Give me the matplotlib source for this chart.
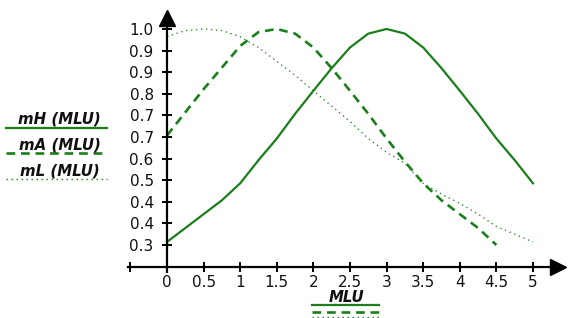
import matplotlib.pyplot as plt
from matplotlib.lines import Line2D

# values (step 0.25 on the MLU axis)
x_h = [0, 0.25, 0.5, 0.75, 1, 1.25, 1.5, 1.75, 2, 2.25, 2.5, 2.75, 3,
       3.25, 3.5, 3.75, 4, 4.25, 4.5, 4.75, 5]
mH = [0.31, 0.355, 0.40, 0.445, 0.50, 0.575, 0.645, 0.725, 0.80, 0.873, 0.94, 0.985, 1.0,
      0.985, 0.94, 0.873, 0.80, 0.725, 0.645, 0.575, 0.50]

x_a = [0, 0.25, 0.5, 0.75, 1, 1.25, 1.5, 1.75, 2, 2.25, 2.5, 2.75, 3,
       3.25, 3.5, 3.75, 4, 4.25, 4.5]
mA = [0.655, 0.73, 0.805, 0.875, 0.945, 0.99, 1.0, 0.985, 0.94, 0.873, 0.80, 0.725, 0.645,
      0.57, 0.50, 0.445, 0.40, 0.355, 0.30]

x_l = x_h
mL = [0.975, 0.995, 1.0, 0.995, 0.975, 0.94, 0.895, 0.85, 0.80, 0.75, 0.70, 0.645, 0.60,
      0.565, 0.50, 0.465, 0.435, 0.40, 0.36, 0.335, 0.31]

x_ticks = [-0.5, 0, 0.5, 1, 1.5, 2, 2.5, 3, 3.5, 4, 4.5, 5]
x_labels = ['', '0', '0.5', '1', '1.5', '2', '2.5', '3', '3.5', '4', '4.5', '5']
y_ticks = [0.3, 0.37, 0.44, 0.51, 0.58, 0.65, 0.72, 0.79, 0.86, 0.93, 1.0]
y_labels = ['0.3', '0.4', '0.4', '0.5', '0.6', '0.7', '0.7', '0.8', '0.9', '0.9', '1.0']

green = '#1a7f1a'
W, H = 569, 318

fig = plt.figure(figsize=(W / 100, H / 100), dpi=100)
ax = fig.add_axes([128 / W, 1 - 272 / H, (558 - 128) / W, (272 - 18) / H])
ax.set_xlim(-0.533, 5.342)
ax.set_ylim(0.2125, 1.0356)

ax.plot(x_h, mH, color=green, lw=1.6, solid_joinstyle='round')
ax.plot(x_a, mA, color=green, lw=1.9, linestyle=(0, (3.3, 2.2)))
ax.plot(x_l, mL, color='#2f8f2f', lw=1.0, linestyle=(0, (1, 2.6)))

# axes with arrows
x_axis_y = 0.2287
for s in ['top', 'right']:
    ax.spines[s].set_visible(False)
ax.spines['left'].set_position(('data', 0))
ax.spines['bottom'].set_position(('data', x_axis_y))
ax.spines['left'].set_linewidth(1.6)
ax.spines['bottom'].set_linewidth(1.6)
ax.plot(1, x_axis_y, '>k', ms=11, transform=ax.get_yaxis_transform(), clip_on=False)
ax.plot(0, 1, '^k', ms=11, transform=ax.get_xaxis_transform(), clip_on=False)

ax.set_xticks(x_ticks)
ax.set_xticklabels(x_labels)
ax.set_yticks(y_ticks)
ax.set_yticklabels(y_labels)
ax.tick_params(axis='both', direction='inout', length=6.5, width=1.4,
               labelsize=11, labelcolor='#111111')
ax.tick_params(axis='x', pad=2.2)
ax.tick_params(axis='y', pad=6.3)
ax.patch.set_visible(False)

# legend on the left
leg = [('mH (MLU)', 119, 127.5, '-', 1.6),
       ('mA (MLU)', 144.5, 152.7, (0, (3.3, 2.2)), 1.9),
       ('mL (MLU)', 170.5, 179.3, (0, (1, 2.6)), 1.0)]
for txt, ty, ly, ls, lw in leg:
    fig.text(59.5 / W, 1 - ty / H, txt, ha='center', va='center',
             fontsize=10.8, fontweight='bold', fontstyle='italic', color='#111111')
    fig.add_artist(Line2D([6 / W, 107 / W], [1 - ly / H, 1 - ly / H], transform=fig.transFigure,
                          color=green, lw=lw, linestyle=ls))

# x label with line samples
fig.text(346 / W, 1 - 297 / H, 'MLU', ha='center', va='center',
         fontsize=10.8, fontweight='bold', fontstyle='italic', color='#111111')
for ly, ls, lw in [(305, '-', 1.6), (311.8, (0, (3.3, 2.2)), 1.9), (316.8, (0, (1, 2.6)), 1.0)]:
    fig.add_artist(Line2D([312 / W, 379 / W], [1 - ly / H, 1 - ly / H], transform=fig.transFigure,
                          color=green, lw=lw, linestyle=ls))

fig.savefig('out.png', dpi=100)
